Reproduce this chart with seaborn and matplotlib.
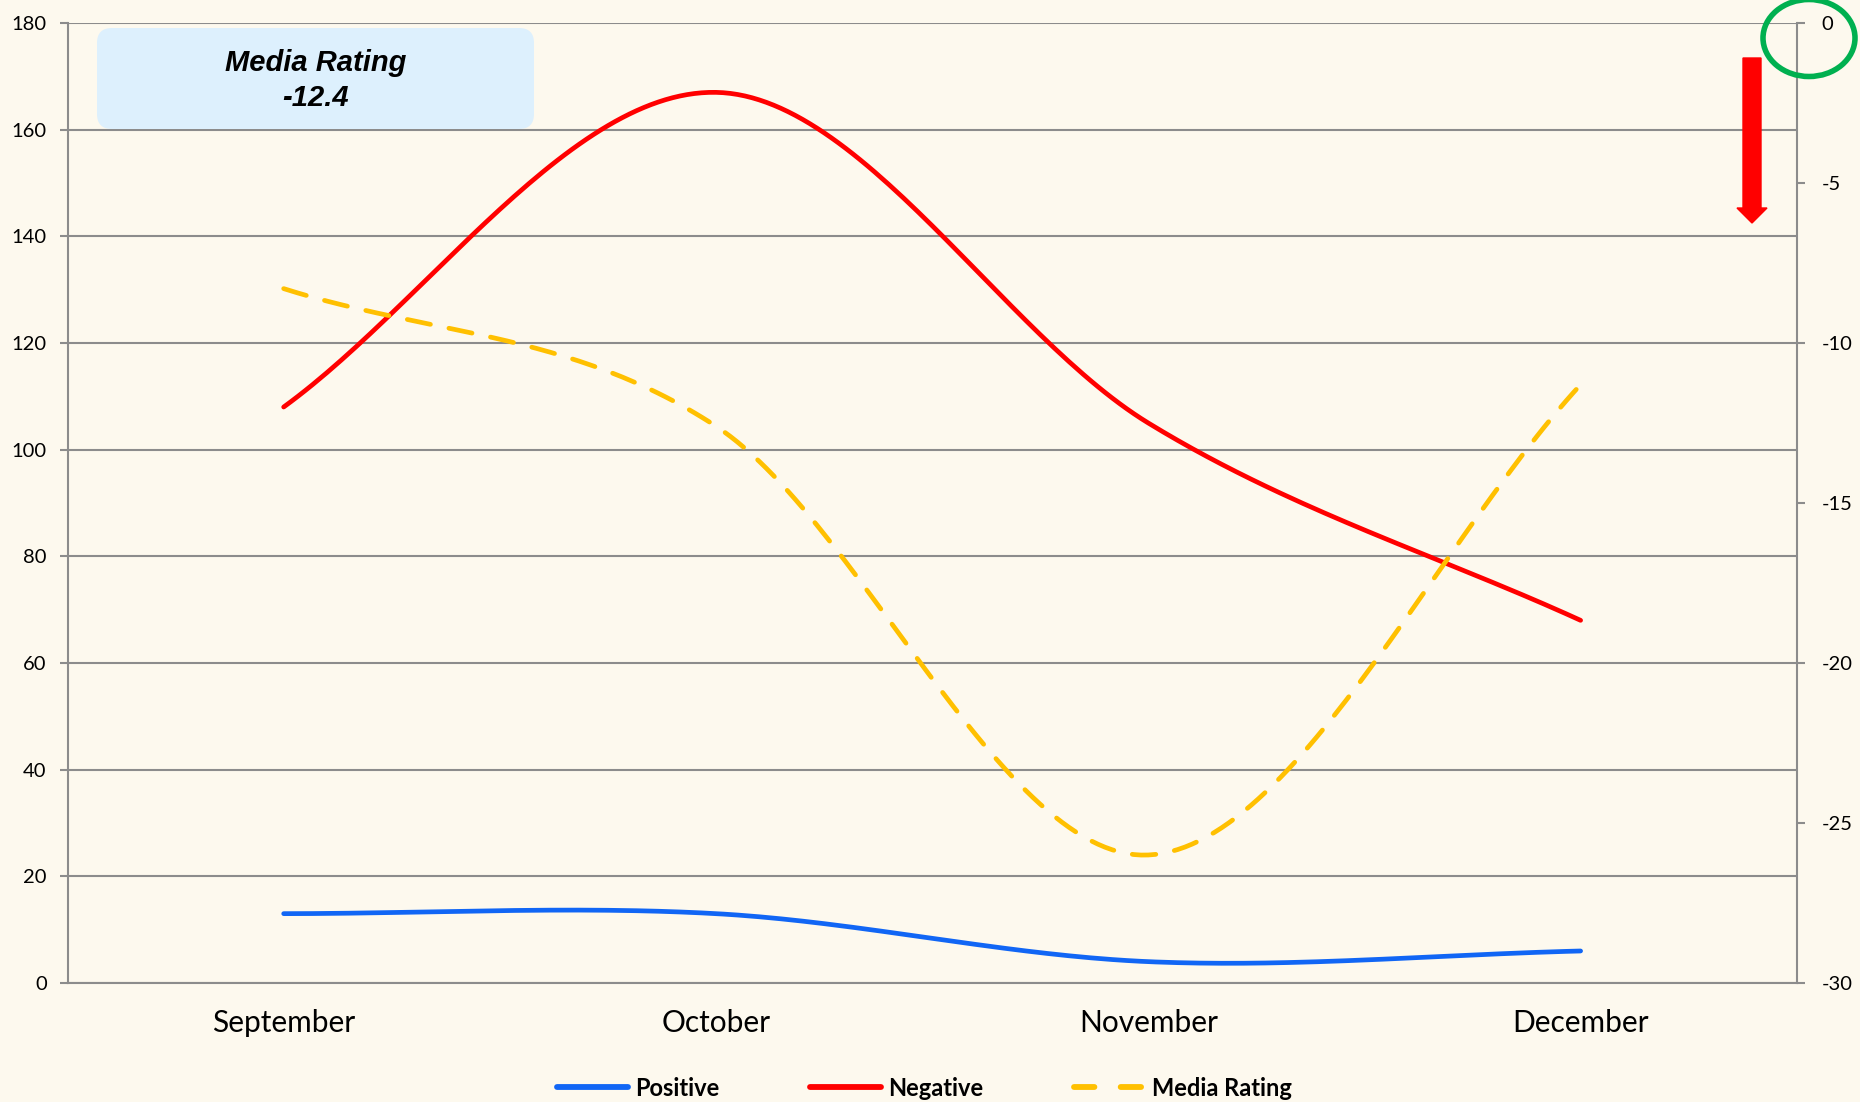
import matplotlib.pyplot as plt
import matplotlib.patches as mpatches
from matplotlib.transforms import IdentityTransform
import numpy as np
import seaborn as sns

months = ['September', 'October', 'November', 'December']
positive = [13, 13, 4, 6]
negative = [108, 167, 105, 68]
media_rating = [-8.3, -12.6, -26.0, -11.3]
left_ticks = list(range(0, 181, 20))
right_ticks = list(range(-30, 1, 5))
box_title = 'Media Rating'
box_value = '-12.4'

BG = '#FDF9EE'
GRID = '#8C8C8C'


def smooth(values, steps=60):
    # Excel style smoothed line through the points (cubic Hermite / Catmull-Rom)
    v = np.asarray(values, dtype=float)
    n = len(v)
    tang = np.empty(n)
    tang[0] = v[1] - v[0]
    tang[-1] = v[-1] - v[-2]
    tang[1:-1] = (v[2:] - v[:-2]) / 2
    xs, ys = [], []
    for i in range(n - 1):
        t = np.linspace(0, 1, steps, endpoint=(i == n - 2))
        h00 = 2 * t**3 - 3 * t**2 + 1
        h10 = t**3 - 2 * t**2 + t
        h01 = -2 * t**3 + 3 * t**2
        h11 = t**3 - t**2
        xs.append(i + t)
        ys.append(h00 * v[i] + h10 * tang[i] + h01 * v[i + 1] + h11 * tang[i + 1])
    return np.concatenate(xs), np.concatenate(ys)


sns.set_style('white', {'axes.facecolor': BG, 'figure.facecolor': BG})
plt.rcParams['font.family'] = ['Lato', 'DejaVu Sans']
plt.rcParams['axes.unicode_minus'] = False
plt.rcParams['text.color'] = 'black'

fig = plt.figure(figsize=(18.6, 11.02), dpi=100)
ax = fig.add_axes([0.0363, 0.108, 0.966 - 0.0363, 0.9791 - 0.108])
ax2 = ax.twinx()

x, y = smooth(positive)
sns.lineplot(x=x, y=y, ax=ax, color='#1166F5', lw=3.4, label='Positive', estimator=None, sort=False)
x, y = smooth(negative)
sns.lineplot(x=x, y=y, ax=ax, color='#FF0000', lw=3.4, label='Negative', estimator=None, sort=False)
x, y = smooth(media_rating)
sns.lineplot(x=x, y=y, ax=ax2, color='#FFC000', lw=3.4, label='Media Rating', estimator=None, sort=False)
ml = ax2.lines[-1]
ml.set_dashes((5, 4))
ml.set_dash_capstyle('round')
for ln in ax.lines:
    ln.set_solid_capstyle('round')

ax.set_xlim(-0.5, 3.5)
ax.set_ylim(0, 180)
ax2.set_ylim(-30, 0)
ax.set_yticks(left_ticks)
ax2.set_yticks(right_ticks)
ax.set_xticks([-0.5, 0.5, 1.5, 2.5, 3.5])
ax.set_xticklabels([])
ax.set_xticks(range(len(months)), minor=True)
ax.set_xticklabels(months, minor=True, fontsize=21.5)
ax.set_xlabel('')
ax.set_ylabel('')
ax2.set_ylabel('')

ax.grid(axis='y', color=GRID, lw=1.5)
ax.set_axisbelow(True)
ax.tick_params(axis='y', direction='out', length=6, width=1.5, color=GRID, pad=9,
               labelsize=14.5, labelcolor='black')
ax.tick_params(axis='x', which='major', direction='out', length=6, width=1.5, color=GRID)
ax.tick_params(axis='x', which='minor', length=0, pad=19, labelcolor='black')
ax2.tick_params(axis='y', direction='out', length=6, width=1.5, color=GRID, pad=12,
                labelsize=14.5, labelcolor='black')

for a in (ax, ax2):
    for side in ('left', 'bottom', 'right'):
        a.spines[side].set_color(GRID)
        a.spines[side].set_linewidth(1.5)
    a.spines['top'].set_visible(False)
ax.spines['right'].set_visible(False)
ax2.spines['left'].set_visible(False)
ax2.spines['bottom'].set_visible(False)
ax2.patch.set_visible(False)

ax.get_legend().remove()
ax2.get_legend().remove()
handles = ax.lines[:2] + ax2.lines[-1:]
labels = ['Positive', 'Negative', 'Media Rating']
leg = fig.legend(handles, labels, loc='center', bbox_to_anchor=(0.497, 0.0127), ncol=3,
                 frameon=False, prop={'weight': 'bold', 'size': 17}, handlelength=3.0,
                 handletextpad=0.3, columnspacing=3.85)
for h in leg.get_lines():
    h.set_linewidth(4.2)
    h.set_solid_capstyle('round')
    h.set_dash_capstyle('round')
leg.get_lines()[2].set_dashes((3.5, 4.5))

# rating box
box = mpatches.FancyBboxPatch((97, 1102 - 129), 437, 101, boxstyle='round,pad=0,rounding_size=15',
                              transform=IdentityTransform(), facecolor='#DDF0FD',
                              edgecolor='none', zorder=5)
fig.patches.append(box)
fig.text(315.5 / 1860, 1 - 63 / 1102, box_title, ha='center', va='center', color='black',
         fontsize=21, fontweight='bold', style='italic', family='Liberation Sans', zorder=6)
fig.text(315.5 / 1860, 1 - 98 / 1102, box_value, ha='center', va='center', color='black',
         fontsize=21, fontweight='bold', style='italic', family='Liberation Sans', zorder=6)

# red arrow and green circle
arrow = mpatches.FancyArrow(1752, 1102 - 58, 0, -165, width=18, head_width=30, head_length=15,
                            length_includes_head=True, transform=IdentityTransform(),
                            color='#FF0000', zorder=6)
fig.patches.append(arrow)
circle = mpatches.Ellipse((1809, 1102 - 38), 92, 77, transform=IdentityTransform(),
                          fill=False, edgecolor='#00B050', lw=4, zorder=6)
fig.patches.append(circle)

fig.savefig('out.png', dpi=100, facecolor=BG)
